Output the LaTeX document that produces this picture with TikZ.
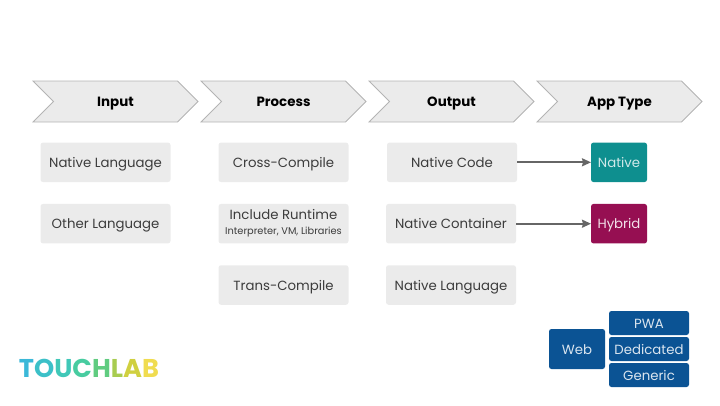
\documentclass[tikz,border=0pt]{standalone}
\usepackage{xcolor}
\usepackage{fontspec}
\setmainfont{Poppins}
\newfontfamily\logofont{Poppins}
\usetikzlibrary{
    arrows.meta,
    shapes.symbols
}
\definecolor{boxgray}{HTML}{EBEBEB}
\definecolor{linegray}{HTML}{B4B4B4}
\definecolor{textgray}{HTML}{3C3C3C}
\definecolor{arrowgray}{HTML}{666666}
\definecolor{nativeteal}{HTML}{0E8F8F}
\definecolor{hybridred}{HTML}{960F52}
\definecolor{webblue}{HTML}{0B5394}

\begin{document}
\begin{tikzpicture}[x=1pt,y=1pt,>={Stealth[length=9pt,width=8pt,inset=1pt]},semithick]
    \tikzstyle{oneline}=[text height=11pt, text depth=1pt]
    \tikzstyle{chevron}=[shape=signal, signal from=west, signal to=east, signal pointer angle=90, draw=linegray, fill=boxgray, line width=0.8pt, minimum width=165pt, minimum height=41pt, inner sep=0pt, outer sep=0pt, oneline, font=\fontsize{13.4}{16}\selectfont\bfseries, text=black]
    \tikzstyle{item}=[shape=rectangle, rounded corners=2.5pt, fill=boxgray, minimum width=130pt, minimum height=39.5pt, inner sep=0pt, outer sep=0pt, align=center, text=textgray, font=\fontsize{13.3}{15}\selectfont]
    \tikzstyle{apptype}=[shape=rectangle, rounded corners=2.5pt, minimum width=56pt, minimum height=39.5pt, inner sep=0pt, outer sep=0pt, oneline, font=\fontsize{13.3}{15}\selectfont]
    \tikzstyle{webtype}=[apptype, fill=webblue, text=white!85!webblue, minimum width=80pt, minimum height=24pt]
    \tikzstyle{link}=[->, draw=arrowgray, line width=1.8pt]
    \useasboundingbox (0, 0) rectangle (720, -405);

    \node [chevron] (input) at (115.5, -101.5) {Input};
    \node [chevron] (process) at (283.5, -101.5) {Process};
    \node [chevron] (output) at (451.5, -101.5) {Output};
    \node [chevron] (type) at (619.5, -101.5) {App Type};

    \node [item, oneline] (nativelang) at (105.5, -162.3) {Native Language};
    \node [item, oneline] (otherlang) at (105.5, -223.7) {Other Language};

    \node [item, oneline] (cross) at (283.5, -162.3) {Cross-Compile};
    \node [item] (runtime) at (283.5, -223.7) {Include Runtime\\[0pt]{\fontsize{9.8}{11}\selectfont Interpreter, VM, Libraries}};
    \node [item, oneline] (trans) at (283.5, -285) {Trans-Compile};

    \node [item, oneline] (code) at (452, -162.3) {Native Code};
    \node [item, oneline] (container) at (451, -223.7) {Native Container};
    \node [item, oneline] (outlang) at (451, -285) {Native Language};

    \node [apptype, fill=nativeteal, text=white!80!nativeteal] (native) at (619, -162.3) {Native};
    \node [apptype, fill=hybridred, text=white!88!hybridred] (hybrid) at (619, -223.7) {Hybrid};

    \node [apptype, fill=webblue, text=white!85!webblue, minimum height=40pt] (web) at (577, -349) {Web};
    \node [webtype] (pwa) at (649, -323) {PWA};
    \node [webtype] (dedicated) at (649, -349) {Dedicated};
    \node [webtype] (generic) at (649, -375) {Generic};

    \draw [link] (code) -- (native);
    \draw [link] (container) -- (hybrid);

    % logo, one colour per letter
    \node [inner sep=0pt, font=\logofont\bfseries\fontsize{25.7}{30}\selectfont] (logo) at (89, -368) {\addfontfeature{LetterSpace=-6}\textcolor[HTML]{3BB8D8}{T}\textcolor[HTML]{3CC0C8}{O}\textcolor[HTML]{40C8B8}{U}\textcolor[HTML]{48CCA0}{C}\textcolor[HTML]{60CC80}{H}\textcolor[HTML]{A8CC50}{L}\textcolor[HTML]{D0D040}{A}\textcolor[HTML]{F0DC50}{B}};
\end{tikzpicture}
\end{document}
